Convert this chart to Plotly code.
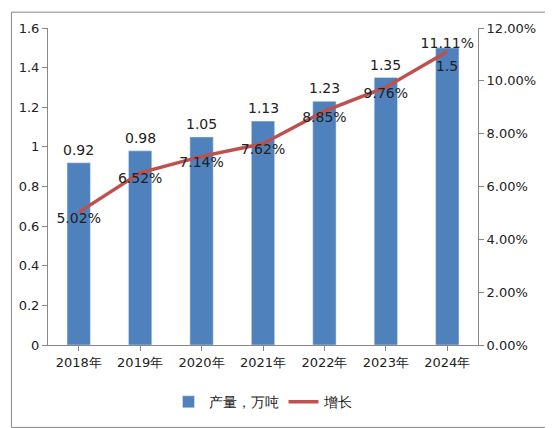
import plotly.graph_objects as go

years = ["2018年","2019年","2020年","2021年","2022年","2023年","2024年"]
output = [0.92,0.98,1.05,1.13,1.23,1.35,1.5]
growth = [5.02,6.52,7.14,7.62,8.85,9.76,11.11]
growth_labels = ["5.02%","6.52%","7.14%","7.62%","8.85%","9.76%","11.11%"]
positions = ["bottom center"]*6 + ["top center"]

fig = go.Figure()
fig.add_trace(go.Bar(x=years, y=output, name="产量，万吨", marker_color="#4F81BD", width=0.38))
fig.add_trace(go.Scatter(x=years, y=[g/100 for g in growth], name="增长", yaxis="y2",
                         mode="lines+text", line=dict(color="#C0504D", width=3.5),
                         text=growth_labels, textposition=positions,
                         textfont=dict(size=14, color="#222"), cliponaxis=False))
annos = []
for i, (yr, v) in enumerate(zip(years, output)):
    last = i == len(years) - 1
    annos.append(dict(x=yr, y=v, xref="x", yref="y", text=str(v), showarrow=False,
                      yanchor="top" if last else "bottom", yshift=-8 if last else 3,
                      font=dict(size=14, color="#222")))
fig.update_layout(
    width=553, height=428, paper_bgcolor="white", plot_bgcolor="white",
    margin=dict(l=40, r=83, t=20, b=91),
    font=dict(family="DejaVu Sans", size=13, color="#222"),
    annotations=annos,
    xaxis=dict(showline=True, linecolor="#888", ticks="outside", tickcolor="#888", tickfont=dict(size=13)),
    yaxis=dict(range=[0,1.6], dtick=0.2, showgrid=False, showline=True, linecolor="#888",
               ticks="outside", tickcolor="#888", tickformat="~g"),
    yaxis2=dict(range=[0,0.12], dtick=0.02, overlaying="y", side="right", tickformat=".2%",
                showgrid=False, showline=True, linecolor="#888", ticks="outside", tickcolor="#888"),
    legend=dict(orientation="h", x=0.5, xanchor="center", y=-0.13, yanchor="top", font=dict(size=14)),
    shapes=[dict(type="rect", xref="paper", yref="paper", x0=-0.085, x1=1.17, y0=-0.26, y1=1.05,
                 line=dict(color="#888", width=1))]
)
fig.write_html("out.html")
